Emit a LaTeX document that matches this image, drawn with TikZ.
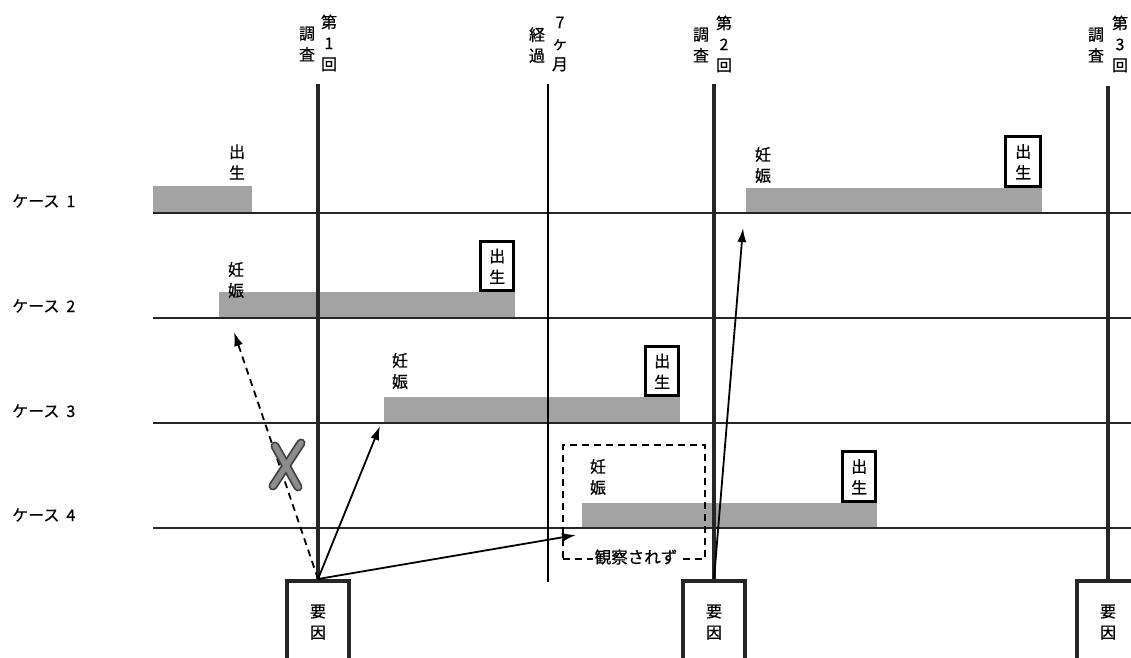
\documentclass[tikz,border=0pt]{standalone}
\usepackage{fontspec}
\newfontfamily\cjk[FakeBold=0.6]{Noto Sans CJK JP}
\usetikzlibrary{arrows.meta}
\tikzset{
  x=1pt, y=-1pt,
  jp/.style={font=\cjk\fontsize{16}{21}\selectfont, align=center, inner sep=0pt},
  caselbl/.style={font=\cjk\fontsize{16}{18}\selectfont, anchor=west, inner sep=0pt},
  survey/.style={line width=3.6pt, black!85},
  thinv/.style={line width=1.8pt, black},
  caseline/.style={line width=1.9pt, black!85},
  bar/.style={fill=black!36, draw=none, anchor=south west, inner sep=0pt},
  birthbox/.style={draw=black, line width=2.6pt, fill=white, inner sep=0pt, anchor=south east},
  yinbox/.style={draw=black!85, line width=3.6pt, fill=white, anchor=north, minimum width=62pt, minimum height=100pt, inner sep=0pt},
  arr/.style={line width=1.8pt, -{Latex[length=14pt,width=9pt]}},
  crossout/.style={line width=9pt, black!75, line cap=round},
  crossin/.style={line width=5.5pt, black!45, line cap=round},
}
\begin{document}
\begin{tikzpicture}
\useasboundingbox (0,0) rectangle (1131,657);
\clip (0,0) rectangle (1131,657);

% top labels
\node[jp] (s1a) at (307,44) {調\\査};
\node[jp] (s1b) at (329,43) {第\\1\\回};
\node[jp] (s7a) at (537,45) {経\\過};
\node[jp] (s7b) at (560,44) {7\\ヶ\\月};
\node[jp] (s2a) at (701,45) {調\\査};
\node[jp] (s2b) at (724,44) {第\\2\\回};
\node[jp] (s3a) at (1096,45) {調\\査};
\node[jp] (s3b) at (1120,44) {第\\3\\回};

% case labels
\node[caselbl] (c1) at (12,201) {ケース\hspace{7pt}1};
\node[caselbl] (c2) at (12,306) {ケース\hspace{7pt}2};
\node[caselbl] (c3) at (12,411) {ケース\hspace{7pt}3};
\node[caselbl] (c4) at (12,515) {ケース\hspace{7pt}4};

% factor boxes
\node[yinbox] (y1) at (318,579) {};
\node[yinbox] (y2) at (714,579) {};
\node[yinbox] (y3) at (1108,579) {};
\node[jp] (y1t) at (318,622) {要\\因};
\node[jp] (y2t) at (714,622) {要\\因};
\node[jp] (y3t) at (1108,622) {要\\因};

% case lines
\coordinate (l1a) at (153,213); \coordinate (l1b) at (1131,213);
\coordinate (l2a) at (153,318); \coordinate (l2b) at (1131,318);
\coordinate (l3a) at (153,423); \coordinate (l3b) at (1131,423);
\coordinate (l4a) at (153,528); \coordinate (l4b) at (1131,528);

% bars
\node[bar, minimum width=99pt, minimum height=27pt] (b1a) at (153,213) {};
\node[bar, minimum width=296pt, minimum height=25pt] (b1b) at (746,213) {};
\node[bar, minimum width=296pt, minimum height=26pt] (b2) at (219,318) {};
\node[bar, minimum width=296pt, minimum height=26pt] (b3) at (384,423) {};
\node[bar, minimum width=295pt, minimum height=25pt] (b4) at (582,528) {};

\draw[caseline] (l1a) -- (l1b);
\draw[caseline] (l2a) -- (l2b);
\draw[caseline] (l3a) -- (l3b);
\draw[caseline] (l4a) -- (l4b);

% observation window (dashed)
\node[draw=black, line width=1.8pt, dash pattern=on 7pt off 5pt, anchor=north west, minimum width=142pt, minimum height=114pt, inner sep=0pt] (obs) at (562,444) {};
\node[font=\cjk\fontsize{16.5}{18}\selectfont, fill=white, inner sep=2pt] (obst) at (636,557) {観察されず};

% vertical lines
\coordinate (v1t) at (318,84);
\coordinate (v7t) at (548,84); \coordinate (v7b) at (548,582);
\coordinate (v2t) at (714,84);
\coordinate (v3t) at (1108,86);
\draw[survey] (v1t) -- (y1.north);
\draw[thinv] (v7t) -- (v7b);
\draw[survey] (v2t) -- (y2.north);
\draw[survey] (v3t) -- (y3.north);

% labels over bars
\node[jp] (t1a) at (237,162) {出\\生};
\node[jp] (t1b) at (763,165) {妊\\娠};
\node[jp] (t2) at (236,280) {妊\\娠};
\node[jp] (t3) at (400,371) {妊\\娠};
\node[jp] (t4) at (598,477) {妊\\娠};

% birth boxes
\node[birthbox, minimum width=35pt, minimum height=50pt] (bb1) at (1042,188) {};
\node[jp] at (bb1.center) {出\\生};
\node[birthbox, minimum width=33pt, minimum height=49pt] (bb2) at (515,292) {};
\node[jp] at (bb2.center) {出\\生};
\node[birthbox, minimum width=33pt, minimum height=49pt] (bb3) at (680,397) {};
\node[jp] at (bb3.center) {出\\生};
\node[birthbox, minimum width=33pt, minimum height=50pt] (bb4) at (877,503) {};
\node[jp] at (bb4.center) {出\\生};

% arrows
\coordinate (a0) at (234,332);
\coordinate (a3) at (380,426);
\coordinate (a4) at (576,535);
\coordinate (a5) at (743,228);
\draw[arr, dash pattern=on 7pt off 5pt] (y1.north) -- (a0);
\draw[arr] (y1.north) -- (a3);
\draw[arr] (y1.north) -- (a4);
\draw[arr] (y2.north) -- (a5);

% cross mark
\coordinate (xa) at (273,486); \coordinate (xb) at (301,443);
\coordinate (xc) at (275,446); \coordinate (xd) at (298,487);
\draw[crossout] (xa) -- (xb);
\draw[crossout] (xc) -- (xd);
\draw[crossin] (xa) -- (xb);
\draw[crossin] (xc) -- (xd);
\end{tikzpicture}
\end{document}
